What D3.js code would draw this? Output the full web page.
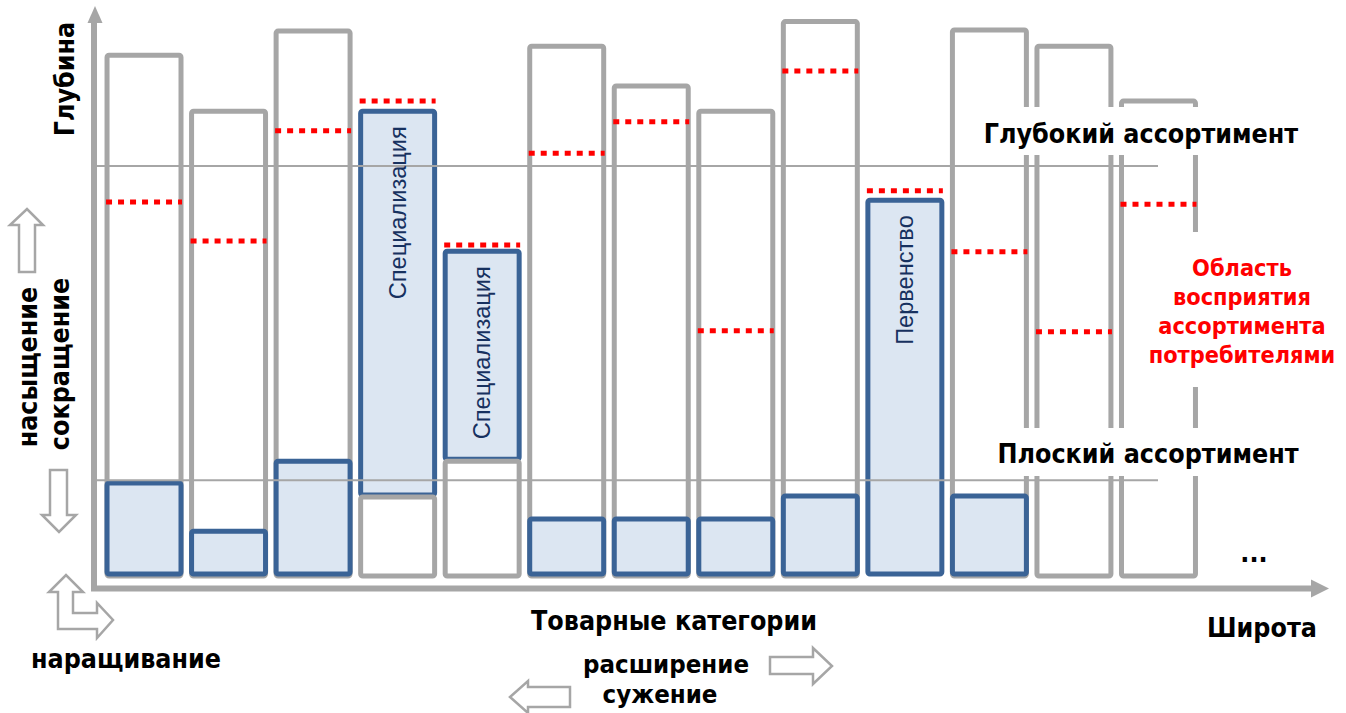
<!DOCTYPE html>
<html lang="ru">
<head>
<meta charset="utf-8">
<title>Широта и глубина ассортимента</title>
<script src="https://cdn.jsdelivr.net/npm/d3@7"></script>
<style>
  html, body { margin: 0; padding: 0; background: #fff; }
  svg { display: block; }
  .bold { font-family: "DejaVu Sans Condensed", "DejaVu Sans", sans-serif; font-stretch: condensed; font-weight: bold; }
  .inbar { font-family: "Liberation Sans", Arial, sans-serif; }
</style>
</head>
<body>
<svg id="chart" width="1346" height="713"></svg>
<script>
// Product categories along the breadth axis
const categories = ["1", "2", "3", "4", "5", "6", "7", "8", "9", "10", "11", "12", "13"];
// Full depth of each category (grey outline); null where not drawn
const fullDepth = [93, 83, 97.3, 14.1, 20.5, 94.6, 87.5, 83, 99, null, 97.5, 94.6, 84.8];
// Depth offered by the store (blue bars): base and top
const offeredBase = [0, 0, 0, 14.1, 20.5, 0, 0, 0, 0, 0, 0, null, null];
const offeredTop  = [16.6, 8, 20.5, 83, 58, 10.2, 10.2, 10.2, 14.3, 67.1, 14.3, null, null];
// Depth perceived by consumers (red dotted lines)
const perceived = [66.8, 59.8, 79.5, 84.8, 59.1, 75.5, 81.1, 43.8, 90.2, 68.8, 57.9, 43.6, 66.4];
// Labels written inside the blue bars
const barLabels = [null, null, null, "Специализация", "Специализация", null, null, null, null, "Первенство", null, null, null];
// Reference levels: deep and flat assortment
const levels = [
  { name: "Глубокий ассортимент", value: 73.2 },
  { name: "Плоский ассортимент", value: 17.1 }
];

const GREY = "#a6a6a6", BLUE = "#3a6396", FILL = "#dce6f2", RED = "#ff0000", NAVY = "#17315f";
const FS = 26.6;

const svg = d3.select("#chart");

const x = d3.scaleBand()
  .domain(categories)
  .range([101.75, 1200.75])
  .paddingInner(0.125)
  .paddingOuter(0.0625);

const y = d3.scaleLinear().domain([0, 100]).range([576, 16]);

const rows = categories.map((c, i) => ({
  c,
  full: fullDepth[i],
  base: offeredBase[i],
  top: offeredTop[i],
  perc: perceived[i],
  label: barLabels[i]
}));

// Axes with arrowheads
const axX0 = 94, axY0 = 588.5;
svg.append("line").attr("x1", axX0).attr("y1", axY0 + 2.5).attr("x2", axX0).attr("y2", 22)
  .attr("stroke", GREY).attr("stroke-width", 6);
svg.append("path").attr("d", "M87.5,23 L95,6 L102.5,23 Z").attr("fill", GREY);
svg.append("line").attr("x1", axX0 - 3).attr("y1", axY0).attr("x2", 1312).attr("y2", axY0)
  .attr("stroke", GREY).attr("stroke-width", 6);
svg.append("path").attr("d", "M1311,579.5 L1329,588.5 L1311,597.5 Z").attr("fill", GREY);

const greyRect = sel => sel
  .attr("x", d => x(d.c))
  .attr("y", d => y(d.full))
  .attr("width", x.bandwidth())
  .attr("height", d => y(0) - y(d.full))
  .attr("rx", 2)
  .attr("fill", "#fff")
  .attr("stroke", GREY)
  .attr("stroke-width", 5)
  .attr("stroke-linejoin", "round");

// Grey categories that stand behind the offered depth
svg.append("g").selectAll("rect")
  .data(rows.filter(d => d.full != null && !(d.base > 0)))
  .join("rect").call(greyRect);

// Offered depth (blue)
svg.append("g").selectAll("rect")
  .data(rows.filter(d => d.top != null))
  .join("rect")
  .attr("x", d => x(d.c))
  .attr("y", d => y(d.top))
  .attr("width", x.bandwidth())
  .attr("height", d => y(d.base) - y(d.top) - 2)
  .attr("rx", 2)
  .attr("fill", FILL)
  .attr("stroke", BLUE)
  .attr("stroke-width", 5)
  .attr("stroke-linejoin", "round");

// Grey bases under stacked offered depth
svg.append("g").selectAll("rect")
  .data(rows.filter(d => d.full != null && d.base > 0))
  .join("rect").call(greyRect);

// Consumer perception (red dotted)
svg.append("g").selectAll("line")
  .data(rows)
  .join("line")
  .attr("x1", d => x(d.c) - 1)
  .attr("x2", d => x(d.c) + x.bandwidth() + 1)
  .attr("y1", d => y(d.perc))
  .attr("y2", d => y(d.perc))
  .attr("stroke", RED)
  .attr("stroke-width", 5)
  .attr("stroke-dasharray", "6,6");

// Reference level lines
svg.append("g").selectAll("line")
  .data(levels)
  .join("line")
  .attr("x1", 96).attr("x2", 1158)
  .attr("y1", d => y(d.value)).attr("y2", d => y(d.value))
  .attr("stroke", GREY).attr("stroke-width", 2);

// Labels inside blue bars
svg.append("g").selectAll("text")
  .data(rows.filter(d => d.label))
  .join("text")
  .attr("class", "inbar")
  .attr("transform", d => `translate(${x(d.c) + x.bandwidth() / 2},${y(d.top) + 15}) rotate(-90)`)
  .attr("text-anchor", "end")
  .attr("dy", "0.35em")
  .attr("font-size", 23.6)
  .attr("fill", NAVY)
  .text(d => d.label);

// Level captions on white boxes
svg.append("rect").attr("x", 962).attr("y", 107).attr("width", 345).attr("height", 48).attr("fill", "#fff");
svg.append("rect").attr("x", 990).attr("y", 428).attr("width", 318).attr("height", 48).attr("fill", "#fff");
svg.append("rect").attr("x", 1130).attr("y", 232).attr("width", 216).attr("height", 155).attr("fill", "#fff");

const T = (txt, tx, ty, size, opts = {}) => svg.append("text")
  .attr("class", "bold")
  .attr("x", tx).attr("y", ty)
  .attr("font-size", size)
  .attr("text-anchor", opts.anchor || "middle")
  .attr("fill", opts.fill || "#000")
  .attr("transform", opts.rotate ? `rotate(-90,${tx},${ty})` : null)
  .text(txt);

T(levels[0].name, 1141, 143, FS);
T(levels[1].name, 1148, 463, FS);

const percLines = ["Область", "восприятия", "ассортимента", "потребителями"];
percLines.forEach((s, i) => T(s, 1242, 276 + i * 29, 23.3, { fill: RED }));

T("...", 1254, 562, FS);
T("Широта", 1262, 637, FS);
T("Товарные категории", 674, 630, FS);
T("расширение", 666, 673, 25.6);
T("сужение", 660, 703, 25.6);
T("наращивание", 126, 668, FS);

T("Глубина", 74, 79, FS, { rotate: true });
T("насыщение", 37, 367, FS, { rotate: true });
T("сокращение", 69, 364, FS, { rotate: true });

// Hollow direction arrows
const arrows = [
  "M19,272 L19,225 L10,225 L27,209 L43,225 L35,225 L35,272 Z",
  "M50,470 L67,470 L67,515 L76,515 L59,532 L42,515 L50,515 Z",
  "M58,629 L58,592 L49,592 L66,575 L83,592 L73,592 L73,613 L97,613 L97,603 L113,620 L97,638 L97,629 Z",
  "M770,657 L813,657 L813,648 L832,666 L813,684 L813,674 L770,674 Z",
  "M570,687 L528,687 L528,681 L510,697 L528,713 L528,707 L570,707 Z"
];
svg.append("g").selectAll("path")
  .data(arrows)
  .join("path")
  .attr("d", d => d)
  .attr("fill", "#fff")
  .attr("stroke", GREY)
  .attr("stroke-width", 2.5)
  .attr("stroke-linejoin", "miter");
</script>
</body>
</html>
